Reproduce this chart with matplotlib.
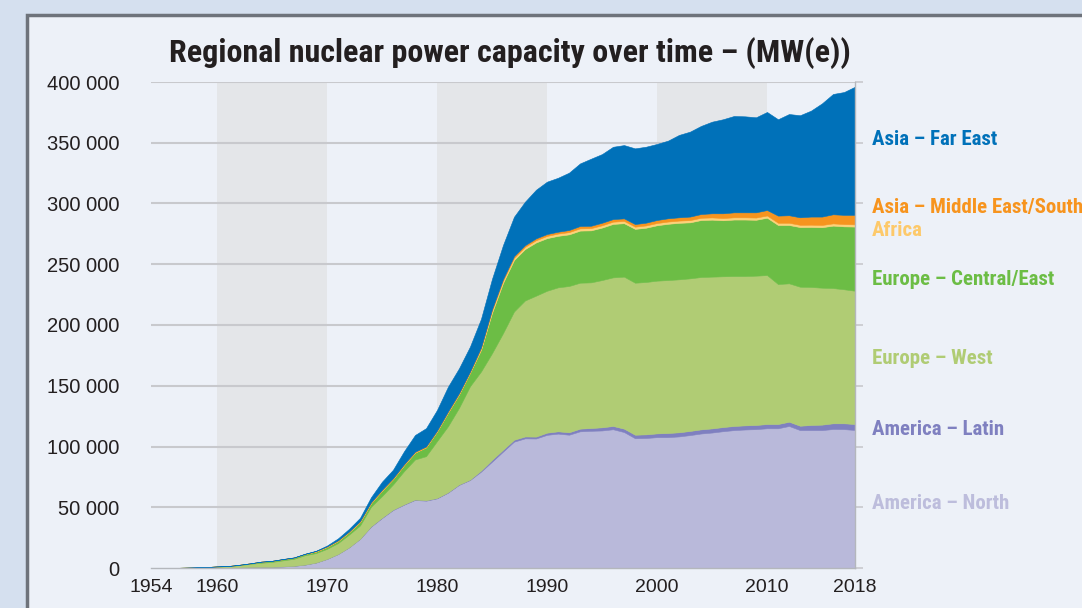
import matplotlib
matplotlib.use("Agg")
import matplotlib.pyplot as plt
from matplotlib import font_manager
from matplotlib.patches import Rectangle

# data (MW(e)) ------------------------------------------------------------
years = list(range(1954, 2019))

america_north = [
    0, 0, 0, 60, 60, 60,                                                  # 1954-1959
    300, 400, 500, 900, 1000, 1000, 1300, 1800, 2800, 4500,               # 1960s
    7500, 11500, 17000, 24000, 34000, 41100, 47700, 52100, 56000, 55400,  # 1970s
    57300, 62000, 68400, 72400, 79300, 87500, 95800, 104000, 106700, 106600,
    109600, 110600, 109700, 112500, 112900, 113200, 114200, 111900, 106800, 107000,
    107700, 107700, 108300, 109400, 110700, 111500, 112600, 113500, 114000, 114300,
    115000, 115000, 116900, 113500, 113500, 113500, 114400, 114300, 113600,
]
america_latin = [
    0, 0, 0, 0, 0, 0,
    0, 0, 0, 0, 0, 0, 0, 0, 0, 0,
    0, 0, 0, 0, 340, 340, 340, 340, 340, 340,
    340, 340, 340, 340, 940, 1550, 1550, 1550, 1550, 1550,
    1800, 1900, 2000, 2200, 2300, 2600, 2700, 2800, 2900, 3000,
    3100, 3400, 3400, 3400, 3400, 3400, 3400, 3400, 3400, 3400,
    3500, 3500, 3500, 3600, 4200, 4500, 4700, 4800, 4900,
]
europe_west = [
    0, 0, 50, 200, 400, 600,
    900, 1100, 1800, 2500, 3300, 4000, 5000, 5800, 7700, 7800,
    8300, 9000, 10500, 11000, 16100, 17800, 20700, 27300, 33000, 36300,
    46800, 54400, 63100, 76900, 81500, 87750, 95950, 105550, 111950, 116000,
    116800, 118500, 120400, 120100, 119900, 121200, 122300, 125100, 125100, 125400,
    125700, 125900, 125900, 125600, 125400, 124900, 124100, 123400, 122900, 122900,
    122600, 115200, 113900, 114400, 113600, 112700, 111300, 110300, 109700,
]
europe_central_east = [
    5, 5, 5, 5, 100, 100,
    100, 100, 300, 400, 900, 900, 1000, 1000, 1100, 1300,
    1600, 1800, 2000, 2900, 3000, 4500, 4500, 5000, 5700, 7300,
    8000, 11300, 11200, 11200, 17800, 33200, 41300, 42400, 42300, 43800,
    43300, 42400, 42500, 42900, 42800, 43200, 44000, 44000, 44300, 44700,
    45600, 46300, 46500, 46100, 46900, 46900, 46100, 46500, 46500, 46000,
    47200, 48600, 48000, 49100, 49400, 49800, 51400, 51800, 52800,
]
africa = [0] * 30 + [920] + [1840] * 34
asia_middle_east_south = [
    0, 0, 0, 0, 0, 0,
    0, 0, 0, 0, 0, 0, 0, 0, 0, 400,
    400, 540, 540, 740, 740, 740, 740, 740, 740, 740,
    740, 940, 940, 940, 1140, 1140, 1360, 1360, 1360, 1540,
    1540, 1540, 1740, 1940, 1940, 2140, 2140, 2140, 2140, 2300,
    2500, 2700, 2700, 2900, 3100, 3400, 3900, 4100, 4100, 4300,
    4500, 5900, 6200, 6200, 6700, 6900, 7500, 7600, 7800,
]
asia_far_east = [
    0, 0, 0, 0, 0, 0,
    0, 0, 0, 0, 0, 0, 160, 160, 200, 200,
    700, 1560, 2160, 2660, 4100, 6600, 6900, 10600, 13700, 15000,
    16900, 20300, 20400, 20500, 23500, 25000, 28000, 32400, 35800, 40000,
    43100, 44400, 47200, 51500, 55200, 56500, 59500, 60300, 62300, 62500,
    62600, 63900, 67800, 69900, 72500, 75400, 77400, 79300, 79000, 78200,
    80700, 79300, 83300, 84000, 87200, 93200, 99000, 101100, 105500,
]

region_names = ["America – North", "America – Latin", "Europe – West",
                "Europe – Central/East", "Africa", "Asia – Middle East/South",
                "Asia – Far East"]
region_colors = ["#b9b9da", "#7f80c0", "#b0cc74", "#6cbd45", "#fdd27a",
                 "#f7941e", "#0071b9"]
label_colors = ["#bdbddc", "#7f80c0", "#b0cc74", "#6cbd45", "#fdc96a",
                "#f7941e", "#0071b9"]
label_y = [52700, 114400, 172800, 237800, 277400, 297100, 353000]

xticks = [1954, 1960, 1970, 1980, 1990, 2000, 2010, 2018]
yticks = list(range(0, 400001, 50000))


def pick_font(cands):
    names = {f.name for f in font_manager.fontManager.ttflist}
    for c in cands:
        if c in names:
            return c
    return "DejaVu Sans"


plain = pick_font(["Liberation Sans", "Roboto"])
narrow = pick_font(["Liberation Sans Narrow", "Roboto Condensed", "Roboto"])

plt.rcParams["font.family"] = [plain, "DejaVu Sans"]

fig = plt.figure(figsize=(10.82, 6.08), dpi=100)
fig.patch.set_facecolor("#d5e0ef")
# framed panel, runs off the right and bottom edges
fig.patches.append(Rectangle((27 / 1082, -0.1), 1.2, 0.1 + 1 - 15 / 608,
                             transform=fig.transFigure, facecolor="#edf1f8",
                             edgecolor="#6e737b", linewidth=2.5, zorder=-1))

ax = fig.add_axes([151 / 1082, 1 - 568 / 608, (855 - 151) / 1082, (568 - 82) / 608])
ax.set_facecolor("#edf1f8")

for a, b in [(1960, 1970), (1980, 1990), (2000, 2010)]:
    ax.axvspan(a, b, color="#e4e6e9", lw=0, zorder=0)
for v in yticks[1:]:
    ax.axhline(v, color="#c8c9cd", lw=1.5, zorder=1)

series = [america_north, america_latin, europe_west, europe_central_east,
          africa, asia_middle_east_south, asia_far_east]
polys = ax.stackplot(years, series, colors=region_colors, lw=0.4, zorder=2)
for p, c in zip(polys, region_colors):
    p.set_edgecolor(c)

ax.set_xlim(1954, 2018)
ax.set_ylim(0, 400000)
ax.set_xticks(xticks)
ax.set_xticklabels([str(x) for x in xticks])
ax.set_yticks(yticks)
ax.set_yticklabels([f"{v:,}".replace(",", " ") for v in yticks])
ax.tick_params(axis="x", length=0, pad=8, labelsize=14, labelcolor="#231f20")
ax.tick_params(axis="y", left=False, right=True, direction="out", length=6,
               width=1.2, color="#c8c9cd", pad=17, labelsize=14.5,
               labelcolor="#231f20")
for s in ["top", "left"]:
    ax.spines[s].set_visible(False)
for s in ["right", "bottom"]:
    ax.spines[s].set_color("#b4b7bc")
    ax.spines[s].set_linewidth(1)
    ax.spines[s].set_zorder(3)

for name, col, yv in zip(region_names, label_colors, label_y):
    ax.text(2019.5, yv, name, color=col, fontsize=15, fontweight="bold",
            family=[narrow, "DejaVu Sans"], stretch="condensed",
            va="center", ha="left", clip_on=False)

fig.text(510 / 1082, 1 - 53 / 608,
         "Regional nuclear power capacity over time – (MW(e))",
         ha="center", va="center", fontsize=23, fontweight="bold",
         family=[narrow, "DejaVu Sans"], stretch="condensed", color="#231f20")

fig.savefig("out.png", dpi=100, facecolor=fig.get_facecolor())
